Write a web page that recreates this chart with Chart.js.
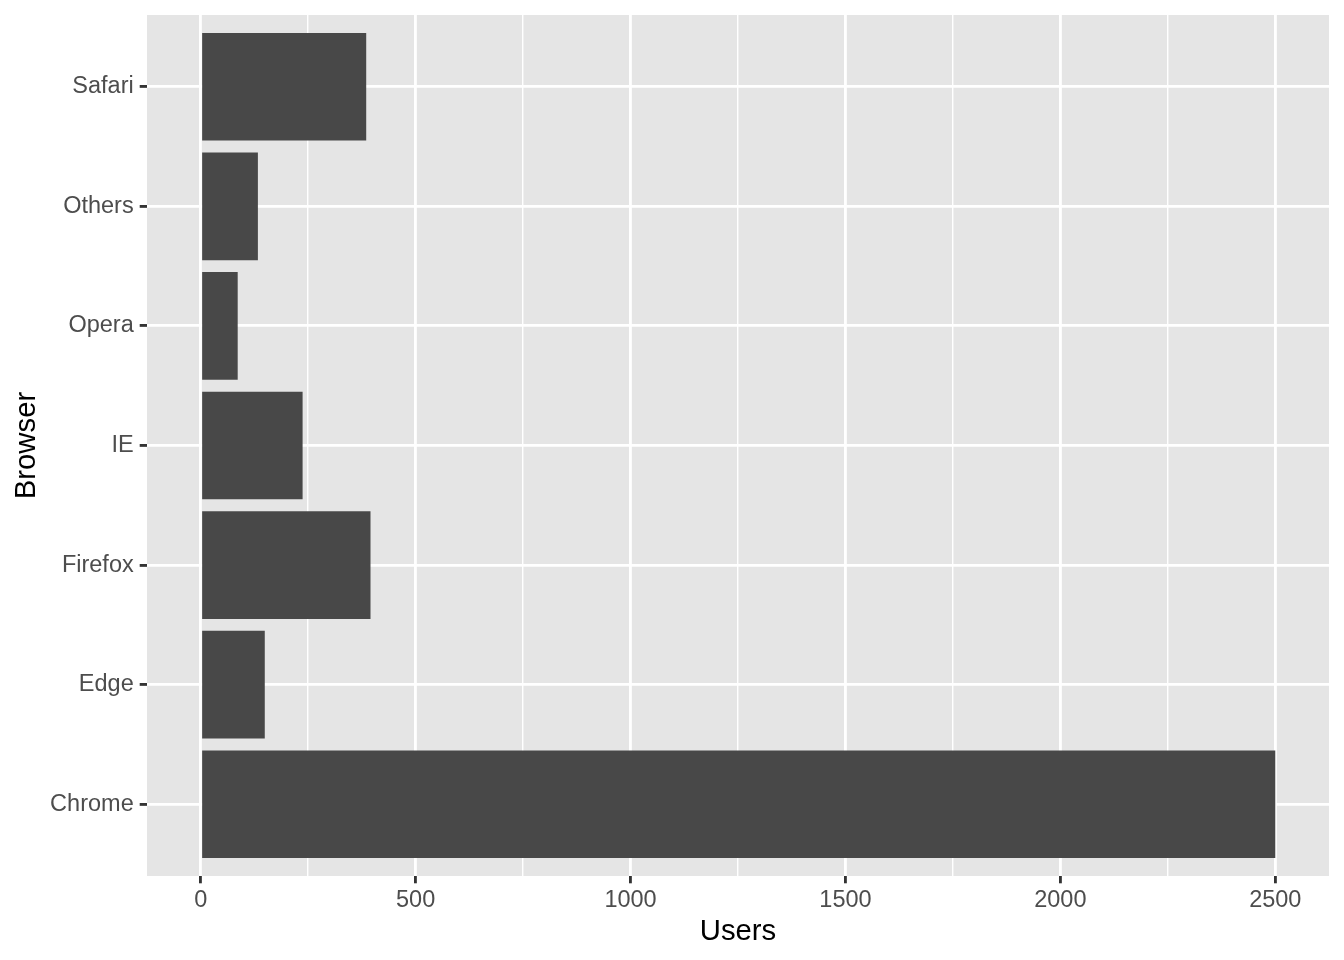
<!DOCTYPE html>
<html>
<head>
<meta charset="utf-8">
<script src="https://cdn.jsdelivr.net/npm/chart.js@4"></script>
<style>
  body { margin: 0; background: #ffffff; }
  canvas { display: block; }
</style>
</head>
<body>
<canvas id="grafica" width="1344" height="960"></canvas>
<script>
// data
let browsers = ['Chrome', 'Edge', 'Firefox', 'IE', 'Opera', 'Others', 'Safari'];
let users = [2500, 149, 395, 237, 86, 133, 385];
let xTicks = [0, 250, 500, 750, 1000, 1250, 1500, 1750, 2000, 2250, 2500];

let fuente = '"Liberation Sans", Arial, Helvetica, sans-serif';
let major = 2.85, minor = 1.42;

// grey panel behind the grid
let panel = {
  id: 'panel',
  beforeDraw(chart){
    let ca = chart.chartArea;
    let c = chart.ctx;
    c.save();
    c.fillStyle = '#E5E5E5';
    c.fillRect(ca.left, ca.top, ca.right - ca.left, ca.bottom - ca.top);
    c.restore();
  }
};

let puntos = users.map((v, i) => ({ x: v, y: i }));

let grafica = document.querySelector('#grafica').getContext('2d');
let chart = new Chart(grafica, {
  type: 'bar',
  data: {
    datasets: [{
      data: puntos,
      backgroundColor: '#484848',
      borderWidth: 0,
      inflateAmount: 0,
      categoryPercentage: 1,
      barPercentage: 0.9
    }]
  },
  options: {
    indexAxis: 'y',
    responsive: false,
    animation: false,
    layout: { padding: { top: 15, right: 15, left: 0, bottom: 0 } },
    plugins: { legend: { display: false }, tooltip: { enabled: false } },
    scales: {
      x: {
        type: 'linear',
        position: 'bottom',
        min: -125,
        max: 2625,
        afterBuildTicks: (s) => { s.ticks = xTicks.map(v => ({ value: v })); },
        afterFit: (s) => { s.height = 84; s.paddingLeft = 0; s.paddingRight = 0; },
        border: { display: false },
        grid: {
          color: '#ffffff',
          lineWidth: (c) => (c.tick && c.tick.value % 500 === 0) ? major : minor,
          drawTicks: true,
          tickLength: 7.3,
          tickWidth: major,
          tickColor: (c) => (c.tick && c.tick.value % 500 === 0) ? '#333333' : 'rgba(0,0,0,0)'
        },
        ticks: {
          autoSkip: false,
          maxRotation: 0,
          padding: 3,
          color: '#4D4D4D',
          font: { family: fuente, size: 23.5 },
          callback: (v) => v % 500 === 0 ? String(v) : ''
        },
        title: {
          display: true,
          text: 'Users',
          color: '#000000',
          font: { family: fuente, size: 29.3 },
          padding: { top: 0, bottom: 11 }
        }
      },
      y: {
        type: 'linear',
        position: 'left',
        offset: false,
        min: -0.6,
        max: 6.6,
        afterBuildTicks: (s) => { s.ticks = browsers.map((b, i) => ({ value: i })); },
        afterFit: (s) => { s.width = 147; s.paddingTop = 0; s.paddingBottom = 0; },
        border: { display: false },
        grid: {
          offset: false,
          color: '#ffffff',
          lineWidth: major,
          drawTicks: true,
          tickLength: 7.3,
          tickWidth: major,
          tickColor: '#333333'
        },
        ticks: {
          autoSkip: false,
          padding: 6,
          color: '#4D4D4D',
          font: { family: fuente, size: 23.5 },
          callback: (v) => browsers[v]
        },
        title: {
          display: true,
          text: 'Browser',
          color: '#000000',
          font: { family: fuente, size: 29.3 },
          padding: { top: 9, bottom: 0 }
        }
      }
    }
  },
  plugins: [panel]
});
</script>
</body>
</html>
